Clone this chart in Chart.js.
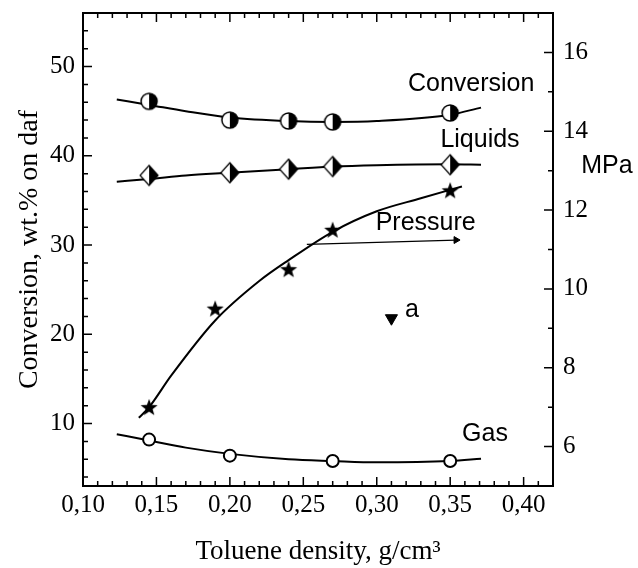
<!DOCTYPE html>
<html>
<head>
<meta charset="utf-8">
<script src="https://cdn.jsdelivr.net/npm/chart.js@4.4.1/dist/chart.umd.min.js"></script>
<style>
  html, body { margin: 0; padding: 0; background: #fff; }
  #wrap { width: 638px; height: 568px; }
</style>
</head>
<body>
<div id="wrap"><canvas id="grafico"></canvas></div>
<script>
// measured points
const densidade = [0.145, 0.20, 0.24, 0.27, 0.35];
const conversao = [46.1, 44.0, 43.9, 43.8, 44.8];
const liquidos = [37.8, 38.1, 38.5, 38.8, 39.0];
const densPressao = [0.145, 0.19, 0.24, 0.27, 0.35];
const pressao = [7.0, 9.5, 10.5, 11.5, 12.5];
const densGas = [0.145, 0.20, 0.27, 0.35];
const gas = [8.2, 6.4, 5.8, 5.8];
const pontoA = [{x: 0.31, y: 21.8}];

// fitted curves
const curvaX = [0.123, 0.145, 0.17, 0.20, 0.24, 0.27, 0.30, 0.35, 0.371];
const curvaConversao = [46.3, 45.7, 45.0, 44.3, 43.9, 43.8, 43.9, 44.6, 45.4];
const curvaLiquidos = [37.1, 37.4, 37.8, 38.1, 38.5, 38.8, 38.95, 39.05, 39.0];
const curvaGas = [8.8, 8.1, 7.3, 6.6, 6.0, 5.8, 5.65, 5.8, 6.05];
const curvaPressaoX = [0.138, 0.145, 0.16, 0.19, 0.22, 0.24, 0.27, 0.30, 0.33, 0.358];
const curvaPressao = [6.73, 7.0, 7.8, 9.2, 10.2, 10.73, 11.45, 11.97, 12.3, 12.6];

// arrow under "Pressure" (MPa axis)
const setaX = [0.2524, 0.354];
const setaY = [11.13, 11.24];

const ticksX = [0.10, 0.15, 0.20, 0.25, 0.30, 0.35, 0.40];
const ticksEsq = [10, 20, 30, 40, 50];
const ticksDir = [6, 8, 10, 12, 14, 16];

const rotulos = [
  {texto: 'Conversion', x: 0.3643, y: 47.3},
  {texto: 'Liquids', x: 0.3703, y: 41.0},
  {texto: 'Pressure', x: 0.3333, y: 31.7},
  {texto: 'Gas', x: 0.3737, y: 8.0},
  {texto: 'a', x: 0.324, y: 21.9}
];

const pares = (xs, ys) => xs.map((x, i) => ({x: x, y: ys[i]}));

// marker images
function meioCirculo() {
  const c = document.createElement('canvas');
  c.width = 20; c.height = 20;
  const g = c.getContext('2d');
  g.fillStyle = '#fff';
  g.beginPath(); g.arc(10, 10, 8, 0, Math.PI * 2); g.fill();
  g.fillStyle = '#000';
  g.beginPath(); g.arc(10, 10, 8, -Math.PI / 2, Math.PI / 2); g.closePath(); g.fill();
  g.strokeStyle = '#000'; g.lineWidth = 1.5;
  g.beginPath(); g.arc(10, 10, 8, 0, Math.PI * 2); g.stroke();
  return c;
}

function meioLosango() {
  const c = document.createElement('canvas');
  c.width = 22; c.height = 24;
  const g = c.getContext('2d');
  g.fillStyle = '#fff';
  g.beginPath(); g.moveTo(11, 2); g.lineTo(20, 12); g.lineTo(11, 22); g.lineTo(2, 12); g.closePath(); g.fill();
  g.fillStyle = '#000';
  g.beginPath(); g.moveTo(11, 2); g.lineTo(20, 12); g.lineTo(11, 22); g.closePath(); g.fill();
  g.strokeStyle = '#000'; g.lineWidth = 1.2;
  g.beginPath(); g.moveTo(11, 2); g.lineTo(20, 12); g.lineTo(11, 22); g.lineTo(2, 12); g.closePath(); g.stroke();
  return c;
}

function estrela() {
  const c = document.createElement('canvas');
  c.width = 20; c.height = 20;
  const g = c.getContext('2d');
  g.fillStyle = '#000';
  g.beginPath();
  for (let i = 0; i < 10; i++) {
    const r = i % 2 === 0 ? 9 : 3.7;
    const ang = -Math.PI / 2 + i * Math.PI / 5;
    const px = 10 + r * Math.cos(ang), py = 10.8 + r * Math.sin(ang);
    if (i === 0) g.moveTo(px, py); else g.lineTo(px, py);
  }
  g.closePath(); g.fill();
  return c;
}

const moldura = {
  id: 'moldura',
  afterDatasetsDraw(chart) {
    const {ctx, chartArea: a, scales} = chart;
    ctx.save();
    ctx.strokeStyle = '#000';
    ctx.lineWidth = 1.5;
    ctx.beginPath();
    for (let i = 10; i <= 42; i++) {
      const px = scales.x.getPixelForValue(i / 100);
      const len = i % 5 === 0 ? 9 : 5;
      ctx.moveTo(px, a.bottom); ctx.lineTo(px, a.bottom - len);
      ctx.moveTo(px, a.top); ctx.lineTo(px, a.top + len);
    }
    for (let i = 4; i <= 56; i += 2) {
      const py = scales.y.getPixelForValue(i);
      const len = i % 10 === 0 ? 9 : 5;
      ctx.moveTo(a.left, py); ctx.lineTo(a.left + len, py);
    }
    for (let i = 5; i <= 17; i++) {
      const py = scales.y2.getPixelForValue(i);
      const len = i % 2 === 0 ? 9 : 5;
      ctx.moveTo(a.right, py); ctx.lineTo(a.right - len, py);
    }
    ctx.stroke();
    ctx.lineWidth = 2;
    ctx.strokeRect(a.left, a.top, a.right - a.left, a.bottom - a.top);

    ctx.fillStyle = '#000';
    ctx.font = '25px "Liberation Sans", Arial, sans-serif';
    ctx.textAlign = 'center';
    ctx.textBaseline = 'alphabetic';
    rotulos.forEach(r => {
      ctx.fillText(r.texto, scales.x.getPixelForValue(r.x), scales.y.getPixelForValue(r.y));
    });
    ctx.fillText('MPa', a.right + 54, scales.y2.getPixelForValue(12.94));
    ctx.restore();
  }
};

const semPadding = s => { s.paddingTop = 0; s.paddingBottom = 0; s.paddingLeft = 0; s.paddingRight = 0; };

const fonteTick = {family: '"Liberation Serif", "Times New Roman", serif', size: 25};
const fonteTitulo = {family: '"Liberation Serif", "Times New Roman", serif', size: 27};

new Chart(document.getElementById('grafico'), {
  type: 'line',
  data: {
    datasets: [{
      label: 'Conversion',
      data: pares(densidade, conversao),
      yAxisID: 'y',
      showLine: false,
      pointStyle: meioCirculo(),
      pointRadius: 8
    }, {
      label: 'Liquids',
      data: pares(densidade, liquidos),
      yAxisID: 'y',
      showLine: false,
      pointStyle: meioLosango(),
      pointRadius: 8
    }, {
      label: 'Pressure',
      data: pares(densPressao, pressao),
      yAxisID: 'y2',
      showLine: false,
      pointStyle: estrela(),
      pointRadius: 8
    }, {
      label: 'Gas',
      data: pares(densGas, gas),
      yAxisID: 'y',
      showLine: false,
      pointStyle: 'circle',
      pointRadius: 6,
      pointBorderWidth: 2,
      pointBorderColor: '#000',
      pointBackgroundColor: '#fff'
    }, {
      label: 'a',
      data: pontoA,
      yAxisID: 'y',
      showLine: false,
      pointStyle: 'triangle',
      rotation: 180,
      pointRadius: 7,
      pointBorderWidth: 1,
      pointBorderColor: '#000',
      pointBackgroundColor: '#000'
    }, {
      label: 'seta',
      data: pares(setaX, setaY),
      yAxisID: 'y2',
      borderColor: '#000',
      borderWidth: 1.2,
      tension: 0,
      pointStyle: 'triangle',
      rotation: 90,
      pointRadius: [0, 4],
      pointBorderWidth: 1,
      pointBorderColor: '#000',
      pointBackgroundColor: '#000'
    }, {
      label: 'Conversion fit',
      data: pares(curvaX, curvaConversao),
      yAxisID: 'y',
      borderColor: '#000',
      borderWidth: 2,
      pointRadius: 0,
      cubicInterpolationMode: 'monotone'
    }, {
      label: 'Liquids fit',
      data: pares(curvaX, curvaLiquidos),
      yAxisID: 'y',
      borderColor: '#000',
      borderWidth: 2,
      pointRadius: 0,
      cubicInterpolationMode: 'monotone'
    }, {
      label: 'Gas fit',
      data: pares(curvaX, curvaGas),
      yAxisID: 'y',
      borderColor: '#000',
      borderWidth: 2,
      pointRadius: 0,
      cubicInterpolationMode: 'monotone'
    }, {
      label: 'Pressure fit',
      data: pares(curvaPressaoX, curvaPressao),
      yAxisID: 'y2',
      borderColor: '#000',
      borderWidth: 2,
      pointRadius: 0,
      cubicInterpolationMode: 'monotone'
    }]
  },
  options: {
    responsive: true,
    maintainAspectRatio: false,
    animation: false,
    layout: {padding: {top: 13, left: 0, right: 0, bottom: 0}},
    plugins: {legend: {display: false}, tooltip: {enabled: false}},
    scales: {
      x: {
        type: 'linear',
        min: 0.10,
        max: 0.42,
        grid: {display: false, drawTicks: false},
        border: {display: false},
        afterBuildTicks: s => { s.ticks = ticksX.map(v => ({value: v})); },
        afterFit: s => { s.height = 82; semPadding(s); },
        ticks: {
          font: fonteTick, color: '#000', padding: 4, maxRotation: 0, autoSkip: false,
          callback: v => v.toFixed(2).replace('.', ',')
        },
        title: {display: true, text: 'Toluene density, g/cm³', font: fonteTitulo, color: '#000', padding: {top: 0, bottom: 0}}
      },
      y: {
        type: 'linear',
        position: 'left',
        min: 3,
        max: 56,
        grid: {display: false, drawTicks: false},
        border: {display: false},
        afterBuildTicks: s => { s.ticks = ticksEsq.map(v => ({value: v})); },
        afterFit: s => { s.width = 83; semPadding(s); },
        ticks: {font: fonteTick, color: '#000', padding: 8},
        title: {display: true, text: 'Conversion, wt.% on daf', font: {family: fonteTitulo.family, size: 28}, color: '#000', padding: {top: 13, bottom: 0}}
      },
      y2: {
        type: 'linear',
        position: 'right',
        min: 5,
        max: 17,
        grid: {display: false, drawTicks: false},
        border: {display: false},
        afterBuildTicks: s => { s.ticks = ticksDir.map(v => ({value: v})); },
        afterFit: s => { s.width = 85; semPadding(s); },
        ticks: {font: fonteTick, color: '#000', padding: 10}
      }
    }
  },
  plugins: [moldura]
});
</script>
</body>
</html>
